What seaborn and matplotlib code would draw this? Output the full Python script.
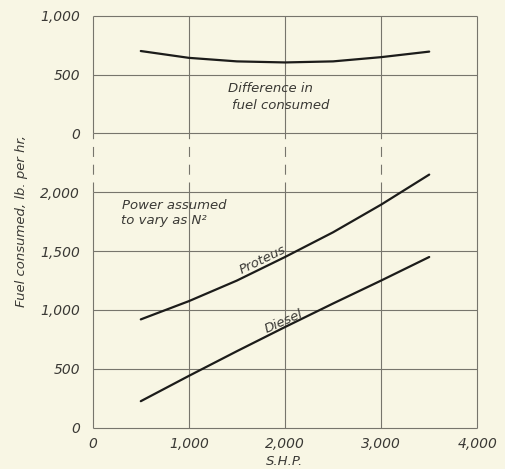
import numpy as np
import pandas as pd
import matplotlib
matplotlib.use("Agg")
import matplotlib.pyplot as plt
import seaborn as sns

# ---- data ----
shp = [500, 1000, 1500, 2000, 2500, 3000, 3500]
proteus = [920, 1075, 1250, 1450, 1660, 1895, 2150]
diesel = [225, 440, 650, 855, 1055, 1250, 1450]
difference = [700, 642, 612, 603, 612, 648, 695]

x_ticks = [0, 1000, 2000, 3000, 4000]
x_tick_labels = ["0", "1,000", "2,000", "3,000", "4,000"]
y_ticks = [0, 500, 1000, 1500, 2000, 2500, 3000, 3500]
y_tick_labels = ["0", "500", "1,000", "1,500", "2,000", "0", "500", "1,000"]

# upper panel (difference) is drawn on the same axis, shifted up
TOP_OFFSET = 2500
GAP_LOW, GAP_HIGH = 2000, 2500

BG = "#f8f6e4"
INK = "#1c1c1a"
GRID = "#77756c"
TEXT = "#3a3935"

sns.set_style("white")
plt.rcParams["font.family"] = ["DejaVu Sans"]
plt.rcParams["font.style"] = "italic"

df = pd.concat([
    pd.DataFrame({"shp": shp, "fuel": proteus, "series": "Proteus"}),
    pd.DataFrame({"shp": shp, "fuel": diesel, "series": "Diesel"}),
    pd.DataFrame({"shp": shp, "fuel": np.array(difference) + TOP_OFFSET,
                  "series": "Difference"}),
])

fig = plt.figure(figsize=(5.05, 4.69), dpi=100, facecolor=BG)
ax = fig.add_axes([0.1836, 0.0881, 0.7615, 0.8784])
ax.set_facecolor(BG)

sns.lineplot(data=df, x="shp", y="fuel", units="series", estimator=None,
             color=INK, lw=1.6, ax=ax, legend=False)

ax.set_xlim(0, 4000)
ax.set_ylim(0, 3500)
for s in ax.spines.values():
    s.set_visible(False)

# grid
ax.hlines(y_ticks, 0, 4000, color=GRID, lw=0.8, zorder=0, clip_on=False)
for xv in x_ticks:
    if xv == 4000:
        ax.vlines(xv, 0, 3500, color=GRID, lw=0.8, zorder=0, clip_on=False)
    else:
        ax.vlines(xv, 0, GAP_LOW, color=GRID, lw=0.8, zorder=0, clip_on=False)
        ax.vlines(xv, GAP_HIGH, 3500, color=GRID, lw=0.8, zorder=0, clip_on=False)
        ax.vlines(xv, GAP_LOW, GAP_HIGH, color=GRID, lw=0.8, zorder=0,
                  clip_on=False, linestyles=[(0, (9, 7))])

ax.set_xticks(x_ticks)
ax.set_xticklabels(x_tick_labels)
ax.set_yticks(y_ticks)
ax.set_yticklabels(y_tick_labels)
ax.tick_params(axis="x", direction="out", length=6.5, width=0.8, color=GRID,
               pad=0.5, labelsize=10, labelcolor=TEXT)
ax.tick_params(axis="y", direction="out", length=8, width=0.8, color=GRID,
               pad=1, labelsize=10, labelcolor=TEXT)
for lab in ax.get_xticklabels() + ax.get_yticklabels():
    lab.set_fontstyle("italic")

ax.set_xlabel("S.H.P.", fontsize=9.5, color=TEXT, style="italic")
ax.xaxis.set_label_coords(0.498, -0.081)
ax.xaxis.label.set_va("center")
ax.set_ylabel("Fuel consumed, lb. per hr,", fontsize=9.5, color=TEXT,
              style="italic")
ax.yaxis.set_label_coords(-0.184, 0.502)
ax.yaxis.label.set_va("center")

tk = dict(fontsize=9.5, color=TEXT, style="italic")
ax.text(1845, 2883, "Difference in", ha="center", va="center", **tk)
ax.text(1950, 2739, "fuel consumed", ha="center", va="center", **tk)
ax.text(300, 1889, "Power assumed", ha="left", va="center", **tk)
ax.text(290, 1762, "to vary as N²", ha="left", va="center", **tk)
ax.text(1766, 1430, "Proteus", ha="center", va="center", rotation=26,
        rotation_mode="anchor", **tk)
ax.text(1990, 905, "Diesel", ha="center", va="center", rotation=24,
        rotation_mode="anchor", **tk)

fig.savefig("out.png", dpi=100, facecolor=BG)
